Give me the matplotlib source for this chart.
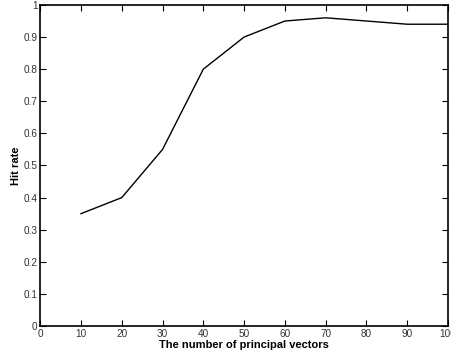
import matplotlib
matplotlib.use('Agg')
import matplotlib.pyplot as plt

n_vectors = [10, 20, 30, 40, 50, 60, 70, 80, 90, 100]
hit_rate = [0.35, 0.40, 0.55, 0.80, 0.90, 0.95, 0.96, 0.95, 0.94, 0.94]
x_ticks = list(range(0, 101, 10))
y_ticks = [0, 0.1, 0.2, 0.3, 0.4, 0.5, 0.6, 0.7, 0.8, 0.9, 1]
y_labels = ['0', '0.1', '0.2', '0.3', '0.4', '0.5', '0.6', '0.7', '0.8', '0.9', '1']

plt.rcParams['font.family'] = ['Liberation Sans', 'DejaVu Sans']

fig = plt.figure(figsize=(4.52, 3.54), dpi=100)
ax = fig.add_axes([0.089, 0.079, 0.902, 0.907])
ax.plot(n_vectors, hit_rate, color='black', linewidth=1)
ax.set_xlim(0, 100)
ax.set_ylim(0, 1)
ax.set_xticks(x_ticks)
ax.set_yticks(y_ticks)
ax.set_yticklabels(y_labels)
ax.tick_params(direction='in', top=True, right=True, length=4, width=0.8,
               labelsize=7.2, labelcolor='#333333', pad=2)
for s in ax.spines.values():
    s.set_linewidth(1.2)
ax.set_xlabel('The number of principal vectors', fontsize=8, fontweight='bold', labelpad=1)
ax.set_ylabel('Hit rate', fontsize=8, fontweight='bold', labelpad=2)

fig.savefig('out.png', dpi=100)
